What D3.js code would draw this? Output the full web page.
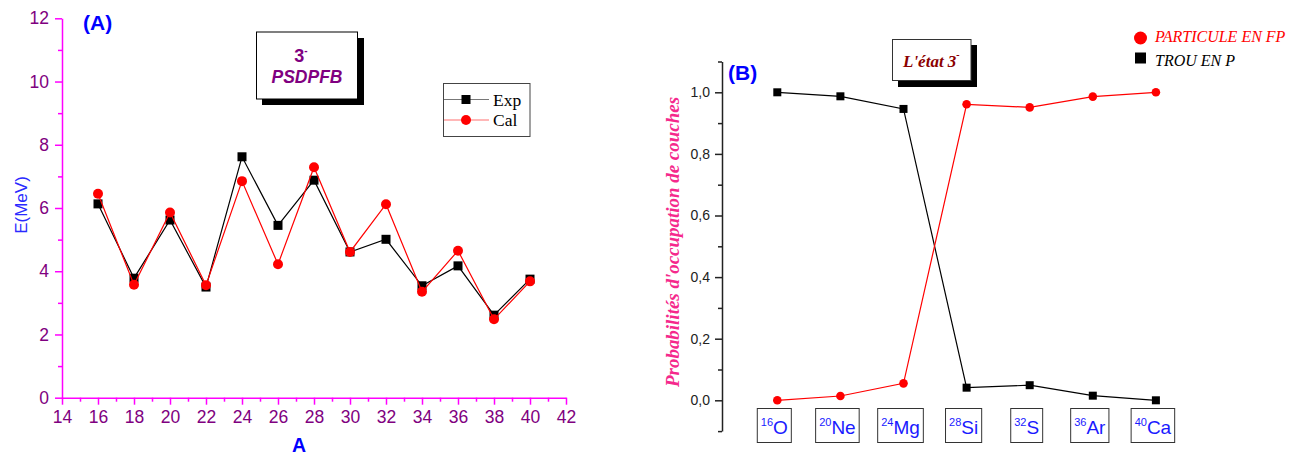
<!DOCTYPE html>
<html><head><meta charset="utf-8">
<script src="https://cdn.jsdelivr.net/npm/d3@7"></script>
<style>body{margin:0;background:#fff}svg{display:block}</style>
</head><body><svg id="c" width="1304" height="455"></svg>
<script>
// ---------- Data, panel A ----------
const massNumbers = [16, 18, 20, 22, 24, 26, 28, 30, 32, 34, 36, 38, 40];
const expEnergy   = [6.13, 3.78, 5.62, 3.50, 7.62, 5.45, 6.88, 4.61, 5.01, 3.54, 4.17, 2.61, 3.75];
const calEnergy   = [6.45, 3.57, 5.86, 3.56, 6.85, 4.22, 7.29, 4.61, 6.12, 3.35, 4.65, 2.48, 3.68];
const xTicksA = [14, 16, 18, 20, 22, 24, 26, 28, 30, 32, 34, 36, 38, 40, 42];
const yTicksA = [0, 2, 4, 6, 8, 10, 12];
const legendA = ["Exp", "Cal"];

// ---------- Data, panel B ----------
const nucleusMass   = ["16", "20", "24", "28", "32", "36", "40"];
const nucleusSymbol = ["O", "Ne", "Mg", "Si", "S", "Ar", "Ca"];
const particuleFP = [0.000, 0.014, 0.055, 0.961, 0.951, 0.986, 1.000];
const trouP       = [1.000, 0.987, 0.946, 0.041, 0.049, 0.015, 0.000];
const yTicksB = [0, 0.2, 0.4, 0.6, 0.8, 1.0];
const legendB = ["PARTICULE EN FP", "TROU EN P"];

const svg = d3.select("#c");
const sans = "'Liberation Sans', Arial, sans-serif";
const serif = "'Liberation Serif', 'Times New Roman', serif";

// ================= PANEL A =================
const xA = d3.scaleLinear().domain([14, 42]).range([62, 566]);
const yA = d3.scaleLinear().domain([0, 12]).range([397.7, 18.3]);
const magenta = "#ff00ff", purple = "#800080";

const gA = svg.append("g");
// minor ticks
const minorX = d3.range(15, 42, 2);
const minorY = d3.range(1, 12, 2);
gA.append("g").attr("transform", "translate(0,397.7)")
  .call(d3.axisBottom(xA).tickValues(minorX).tickSize(4).tickSizeOuter(0).tickFormat(""))
  .call(g => { g.select(".domain").remove(); g.selectAll("line").attr("stroke", magenta).attr("stroke-width", 1.5); });
gA.append("g").attr("transform", "translate(62,0)")
  .call(d3.axisLeft(yA).tickValues(minorY).tickSize(4).tickSizeOuter(0).tickFormat(""))
  .call(g => { g.select(".domain").remove(); g.selectAll("line").attr("stroke", magenta).attr("stroke-width", 1.5); });
// major axes
gA.append("g").attr("transform", "translate(0,397.7)")
  .call(d3.axisBottom(xA).tickValues(xTicksA).tickSize(7).tickSizeOuter(0).tickPadding(6))
  .call(g => {
    g.select(".domain").attr("stroke", magenta).attr("stroke-width", 1.5);
    g.selectAll("line").attr("stroke", magenta).attr("stroke-width", 1.5);
    g.selectAll("text").attr("fill", purple).attr("font-family", sans).attr("font-size", 17.5);
  });
gA.append("g").attr("transform", "translate(62,0)")
  .call(d3.axisLeft(yA).tickValues(yTicksA).tickSize(7).tickSizeOuter(0).tickPadding(6))
  .call(g => {
    g.select(".domain").attr("stroke", magenta).attr("stroke-width", 1.5);
    g.selectAll("line").attr("stroke", magenta).attr("stroke-width", 1.5);
    g.selectAll("text").attr("fill", purple).attr("font-family", sans).attr("font-size", 17.5);
  });

// axis titles
gA.append("text").attr("x", 299).attr("y", 452).attr("text-anchor", "middle")
  .attr("font-family", sans).attr("font-weight", "bold").attr("font-size", 19.5).attr("fill", "#0000ff").text("A");
gA.append("text").attr("transform", "translate(27,205) rotate(-90)").attr("text-anchor", "middle")
  .attr("font-family", sans).attr("font-size", 17).attr("fill", "#2a2aff").text("E(MeV)");
gA.append("text").attr("x", 83).attr("y", 30)
  .attr("font-family", sans).attr("font-weight", "bold").attr("font-size", 21).attr("fill", "#0000ff").text("(A)");

// series
const lineA = (vals) => d3.line().x((d, i) => xA(massNumbers[i])).y(d => yA(d))(vals);
gA.append("path").attr("d", lineA(expEnergy)).attr("fill", "none").attr("stroke", "#000").attr("stroke-width", 1.2);
gA.selectAll(".sqA").data(expEnergy).enter().append("rect")
  .attr("x", (d, i) => xA(massNumbers[i]) - 4.5).attr("y", d => yA(d) - 4.5)
  .attr("width", 9).attr("height", 9).attr("fill", "#000");
gA.append("path").attr("d", lineA(calEnergy)).attr("fill", "none").attr("stroke", "#ff0000").attr("stroke-width", 1.2);
gA.selectAll(".ciA").data(calEnergy).enter().append("circle")
  .attr("cx", (d, i) => xA(massNumbers[i])).attr("cy", d => yA(d)).attr("r", 5).attr("fill", "#ff0000");

// title box A
gA.append("rect").attr("x", 262).attr("y", 38).attr("width", 102).attr("height", 67).attr("fill", "#000");
gA.append("rect").attr("x", 256.5).attr("y", 32).attr("width", 101).attr("height", 67).attr("fill", "#fff").attr("stroke", "#000").attr("stroke-width", 1);
const t3 = gA.append("text").attr("x", 301).attr("y", 62).attr("text-anchor", "middle")
  .attr("font-family", sans).attr("font-weight", "bold").attr("font-size", 18).attr("fill", purple);
t3.append("tspan").text("3");
t3.append("tspan").attr("font-size", 10).attr("dy", -8).text("-");
gA.append("text").attr("x", 307).attr("y", 83).attr("text-anchor", "middle")
  .attr("font-family", sans).attr("font-weight", "bold").attr("font-style", "italic").attr("font-size", 17.5)
  .attr("fill", purple).text("PSDPFB");

// legend A
gA.append("rect").attr("x", 443.5).attr("y", 83.5).attr("width", 86.5).attr("height", 53).attr("fill", "#fff").attr("stroke", "#444").attr("stroke-width", 1);
const legLineA = ["#777", "#ff7070"];
legendA.forEach((name, i) => {
  const y = 99.5 + i * 20.5;
  gA.append("line").attr("x1", 444).attr("x2", 489).attr("y1", y).attr("y2", y).attr("stroke", legLineA[i]).attr("stroke-width", 1.2);
  if (i === 0) gA.append("rect").attr("x", 461.5).attr("y", y - 4.5).attr("width", 9).attr("height", 9).attr("fill", "#000");
  else gA.append("circle").attr("cx", 466).attr("cy", y).attr("r", 5).attr("fill", "#ff0000");
  gA.append("text").attr("x", 493).attr("y", y + 6).attr("font-family", serif).attr("font-size", 17.5).attr("fill", "#000").text(name);
});

// ================= PANEL B =================
const gB = svg.append("g");
const xB = d3.scalePoint().domain(nucleusSymbol).range([777.3, 1155.9]);
const yB = d3.scaleLinear().domain([-0.1, 1.1]).range([431.1, 61.5]);

const minorB = [-0.1, 0.1, 0.3, 0.5, 0.7, 0.9, 1.1];
gB.append("g").attr("transform", "translate(722,0)")
  .call(d3.axisLeft(yB).tickValues(minorB).tickSize(4).tickSizeOuter(0).tickFormat(""))
  .call(g => { g.select(".domain").remove(); g.selectAll("line").attr("stroke", "#222").attr("stroke-width", 1.5); });
gB.append("g").attr("transform", "translate(722,0)")
  .call(d3.axisLeft(yB).tickValues(yTicksB).tickSize(7).tickSizeOuter(0).tickPadding(5)
    .tickFormat(d => d3.format(".1f")(d).replace(".", ",")))
  .call(g => {
    g.select(".domain").attr("stroke", "#222").attr("stroke-width", 1.5);
    g.selectAll("line").attr("stroke", "#222").attr("stroke-width", 1.5);
    g.selectAll("text").attr("fill", "#222").attr("font-family", sans).attr("font-size", 14);
  });

gB.append("text").attr("transform", "translate(679,242) rotate(-90)").attr("text-anchor", "middle")
  .attr("font-family", serif).attr("font-weight", "bold").attr("font-style", "italic").attr("font-size", 18)
  .attr("textLength", 290).attr("lengthAdjust", "spacingAndGlyphs")
  .attr("fill", "#f5288c").text("Probabilités d'occupation de couches");
gB.append("text").attr("x", 728).attr("y", 80)
  .attr("font-family", sans).attr("font-weight", "bold").attr("font-size", 21).attr("fill", "#0000ff").text("(B)");

// series B
const lineB = (vals) => d3.line().x((d, i) => xB(nucleusSymbol[i])).y(d => yB(d))(vals);
gB.append("path").attr("d", lineB(trouP)).attr("fill", "none").attr("stroke", "#000").attr("stroke-width", 1.2);
gB.selectAll(".sqB").data(trouP).enter().append("rect")
  .attr("x", (d, i) => xB(nucleusSymbol[i]) - 4).attr("y", d => yB(d) - 4)
  .attr("width", 8).attr("height", 8).attr("fill", "#000");
gB.append("path").attr("d", lineB(particuleFP)).attr("fill", "none").attr("stroke", "#ff0000").attr("stroke-width", 1.2);
gB.selectAll(".ciB").data(particuleFP).enter().append("circle")
  .attr("cx", (d, i) => xB(nucleusSymbol[i])).attr("cy", d => yB(d)).attr("r", 4.3).attr("fill", "#ff0000");

// nucleus label boxes
nucleusSymbol.forEach((sym, i) => {
  const cx = xB(sym) - 3;
  const g = gB.append("g");
  const t = g.append("text").attr("y", 433.5).attr("font-family", sans).attr("fill", "#1a1aff");
  t.append("tspan").attr("font-size", 11).attr("dy", -8).text(nucleusMass[i]);
  t.append("tspan").attr("font-size", 19).attr("dy", 8).text(sym);
  const w = t.node().getComputedTextLength();
  t.attr("x", cx - w / 2);
  g.insert("rect", "text").attr("x", cx - w / 2 - 3.5).attr("y", 408.5).attr("width", w + 7).attr("height", 34)
    .attr("fill", "#fff").attr("stroke", "#333").attr("stroke-width", 1);
});

// title box B
gB.append("rect").attr("x", 898).attr("y", 45).attr("width", 79).attr("height", 42).attr("fill", "#000");
gB.append("rect").attr("x", 892.5).attr("y", 39.5).attr("width", 78.5).attr("height", 41).attr("fill", "#fff").attr("stroke", "#333").attr("stroke-width", 1);
const tB = gB.append("text").attr("x", 903).attr("y", 67)
  .attr("font-family", serif).attr("font-weight", "bold").attr("font-style", "italic").attr("font-size", 17).attr("fill", "#8b0000");
tB.append("tspan").text("L'état 3");
tB.append("tspan").attr("font-size", 10).attr("dy", -9).text("-");

// legend B
gB.append("circle").attr("cx", 1140.5).attr("cy", 38).attr("r", 6.5).attr("fill", "#ff0000");
gB.append("text").attr("x", 1155).attr("y", 41.5).attr("font-family", serif).attr("font-style", "italic")
  .attr("font-size", 16).attr("fill", "#ff0000").text(legendB[0]);
gB.append("rect").attr("x", 1135).attr("y", 52.5).attr("width", 11).attr("height", 11).attr("fill", "#000");
gB.append("text").attr("x", 1155).attr("y", 66).attr("font-family", serif).attr("font-style", "italic")
  .attr("font-size", 16).attr("fill", "#000").text(legendB[1]);
</script></body></html>
